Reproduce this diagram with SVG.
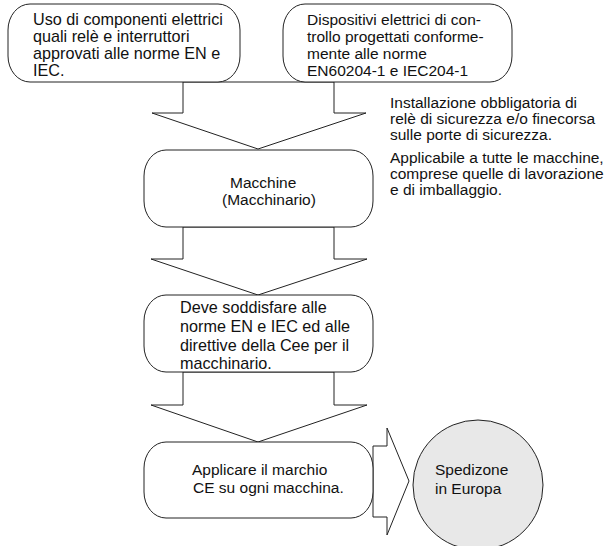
<svg xmlns="http://www.w3.org/2000/svg" width="608" height="546" viewBox="0 0 608 546">
<style>
.bx{fill:#fff;stroke:#222;stroke-width:1}
.ar{fill:#fff;stroke:#222;stroke-width:1;stroke-linejoin:miter}
text{font-family:"Liberation Sans",Arial,sans-serif;font-size:15.5px;fill:#111}
.lg{font-size:16.2px}
</style>
<rect width="608" height="546" fill="#fff"/>
<g id="connectors">
<polygon class="ar" points="183,82 334,82 334,113 366,113 258,149 152,113 183,113"/>
<polygon class="ar" points="183,227 334,227 334,259 367,259 258,295 151,259 183,259"/>
<polygon class="ar" points="183,372 334,372 334,405 367,405 258,442 151,405 183,405"/>
<polygon class="ar" points="373,446 387,446 387,428 409,481 387,535 387,517 373,517"/>
</g>
<g id="node-uso">
<rect class="bx" x="8" y="4" width="232" height="78" rx="22" ry="26"/>
<text class="lg"><tspan x="33" y="25">Uso di componenti elettrici</tspan><tspan x="33" y="42">quali relè e interruttori</tspan><tspan x="33" y="59">approvati alle norme EN e</tspan><tspan x="33" y="76">IEC.</tspan></text>
</g>
<g id="node-dispositivi">
<rect class="bx" x="283" y="4" width="229" height="78" rx="22" ry="26"/>
<text><tspan x="307" y="25">Dispositivi elettrici di con-</tspan><tspan x="307" y="42">trollo progettati conforme-</tspan><tspan x="307" y="59">mente alle norme</tspan><tspan x="307" y="76">EN60204-1 e IEC204-1</tspan></text>
</g>
<g id="note-installazione">
<text><tspan x="390" y="108">Installazione obbligatoria di</tspan><tspan x="390" y="124">relè di sicurezza e/o finecorsa</tspan><tspan x="390" y="140">sulle porte di sicurezza.</tspan></text>
</g>
<g id="note-applicabile">
<text><tspan x="390" y="163">Applicabile a tutte le macchine,</tspan><tspan x="390" y="179">comprese quelle di lavorazione</tspan><tspan x="390" y="195">e di imballaggio.</tspan></text>
</g>
<g id="node-macchine">
<rect class="bx" x="144" y="150" width="229" height="77" rx="22" ry="26"/>
<text><tspan x="230" y="188">Macchine</tspan><tspan x="222" y="205">(Macchinario)</tspan></text>
</g>
<g id="node-deve">
<rect class="bx" x="144" y="295" width="229" height="77" rx="22" ry="26"/>
<text class="lg"><tspan x="180" y="313">Deve soddisfare alle</tspan><tspan x="180" y="332">norme EN e IEC ed alle</tspan><tspan x="180" y="351">direttive della Cee per il</tspan><tspan x="180" y="369">macchinario.</tspan></text>
</g>
<g id="node-applicare">
<rect class="bx" x="144" y="442" width="229" height="76" rx="22" ry="26"/>
<text><tspan x="192" y="475">Applicare il marchio</tspan><tspan x="193" y="493">CE su ogni macchina.</tspan></text>
</g>
<g id="node-spedizione">
<circle cx="478" cy="485" r="65" fill="#e8e8e8" stroke="#222" stroke-width="1"/>
<text><tspan x="435" y="475">Spedizone</tspan><tspan x="435" y="494">in Europa</tspan></text>
</g>
</svg>
